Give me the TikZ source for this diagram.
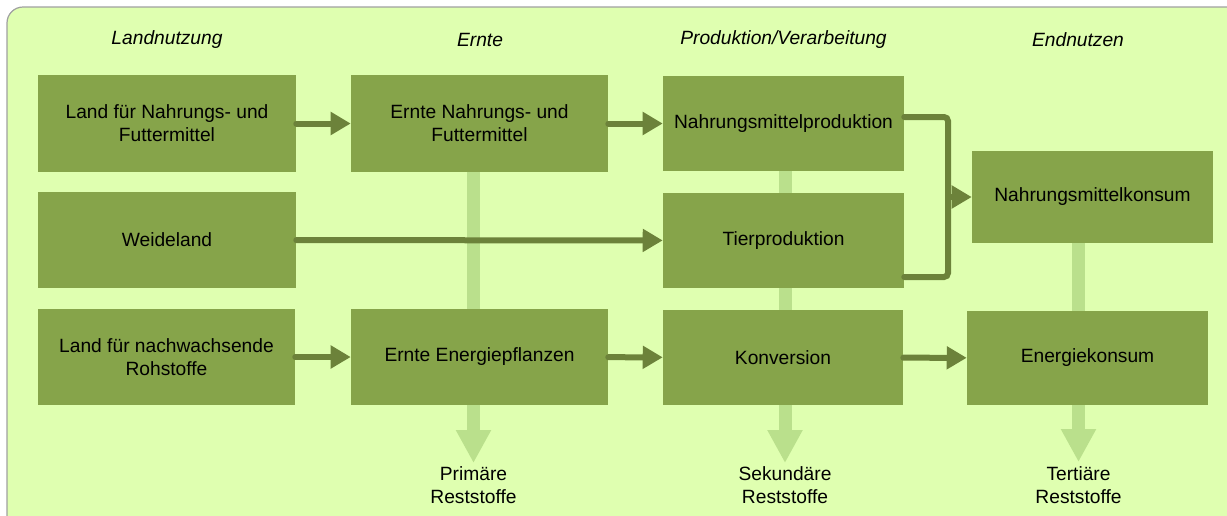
\documentclass[tikz,border=0pt]{standalone}
\usepackage{fontspec}
\setmainfont{Liberation Sans}
\usetikzlibrary{arrows.meta}
\definecolor{bgfill}{RGB}{223,255,176}
\definecolor{bgline}{RGB}{160,160,160}
\definecolor{boxfill}{RGB}{134,164,74}
\definecolor{darkarr}{RGB}{108,130,58}
\definecolor{lightarr}{RGB}{186,224,140}
\pgfdeclarelayer{bgrect}
\pgfdeclarelayer{links}
\pgfsetlayers{bgrect,links,main}
\tikzset{
  bx/.style 2 args={fill=boxfill, draw=none, inner sep=0pt, align=center,
    minimum width=#1*0.75pt, minimum height=#2*0.75pt,
    font=\fontsize{14.4}{17.25}\selectfont},
  hdr/.style={font=\fontsize{14.4}{17.25}\selectfont\itshape, inner sep=0pt},
  lbl/.style={font=\fontsize{14.4}{17.25}\selectfont, align=center, inner sep=0pt},
  darkline/.style={draw=darkarr, line width=4.5pt, line cap=round},
  darkarrow/.style={darkline, -{Triangle[length=15pt,width=16.5pt]}},
  lightline/.style={draw=lightarr, line width=9.75pt},
  lightarrow/.style={lightline, -{Triangle[length=24.75pt,width=24.75pt]}},
}
\begin{document}
\begin{tikzpicture}[x=0.75pt,y=-0.75pt]
\useasboundingbox (0,0) rectangle (1227,515);
\begin{pgfonlayer}{bgrect}
\clip (0,0) rectangle (1227,515);
\draw[bgline, fill=bgfill, line width=0.9pt, rounded corners=12pt] (7,7) rectangle (1245,535);
\end{pgfonlayer}

% headers
\node[hdr] (h1) at (167,40) {Landnutzung};
\node[hdr] (h2) at (480,40) {Ernte};
\node[hdr] (h3) at (783.5,40) {Produktion/Verarbeitung};
\node[hdr] (h4) at (1078,40) {Endnutzen};

% boxes
\node[bx={258}{97}] (lnf) at (167,123.5) {Land für Nahrungs- und\\Futtermittel};
\node[bx={258}{96}] (wl) at (167,240) {Weideland};
\node[bx={257}{96}] (lnr) at (166.5,357) {Land für nachwachsende\\Rohstoffe};
\node[bx={257}{97}] (enf) at (479.5,123.5) {Ernte Nahrungs- und\\Futtermittel};
\node[bx={257}{96}] (ee) at (479.5,357) {Ernte Energiepflanzen};
\node[bx={241}{95}] (nmp) at (783.5,123.5) {Nahrungsmittelproduktion};
\node[bx={241}{95}] (tp) at (783.5,240.5) {Tierproduktion};
\node[bx={240}{95}] (kon) at (783,357.5) {Konversion};
\node[bx={241}{92}] (nmk) at (1092.5,197) {Nahrungsmittelkonsum};
\node[bx={241}{94}] (ek) at (1087.5,358) {Energiekonsum};

% residue labels
\node[lbl] (prim) at (473.5,485) {Primäre\\Reststoffe};
\node[lbl] (sek) at (785,485) {Sekundäre\\Reststoffe};
\node[lbl] (tert) at (1078.5,485) {Tertiäre\\Reststoffe};
\coordinate (primtip) at (473.5,463);
\coordinate (sektip) at (785,463);
\coordinate (terttip) at (1078.5,462);

% light residue connectors (behind boxes)
\begin{pgfonlayer}{links}
\draw[lightarrow] (enf.south -| primtip) -- (primtip);
\draw[lightarrow] (nmp.south -| sektip) -- (sektip);
\draw[lightarrow] (nmk.south -| terttip) -- (terttip);
\end{pgfonlayer}

% dark flow arrows
\draw[darkarrow] (lnf) -- (enf);
\draw[darkarrow] (enf) -- (nmp);
\draw[darkarrow] (wl) -- (tp);
\draw[darkarrow] (lnr) -- (ee);
\draw[darkarrow] (ee) -- (kon);
\draw[darkarrow] (kon) -- (ek);

% bracket to Nahrungsmittelkonsum
\coordinate (bt) at (948,117);
\coordinate (bb) at (948,277);
\coordinate (bm) at (948,197);
\draw[darkline, rounded corners=3pt] (nmp.east |- bt) -- (bt) -- (bb) -- (tp.east |- bb);
\draw[darkarrow] (bm) -- (nmk.west);
\end{tikzpicture}
\end{document}
